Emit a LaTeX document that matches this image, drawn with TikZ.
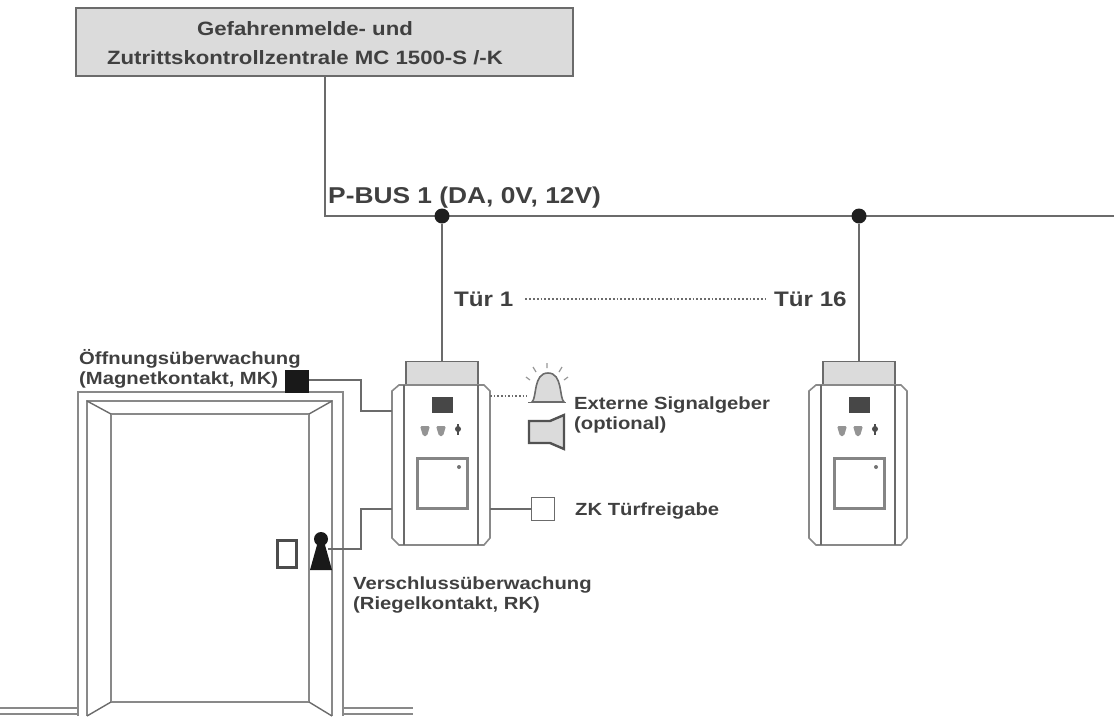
\documentclass[tikz,border=0pt]{standalone}
\usepackage{fontspec}
\setmainfont{Liberation Sans}
\newfontfamily\widebold[FakeStretch=1.15]{Liberation Sans Bold}
\definecolor{ln}{gray}{0.42}
\definecolor{fillg}{gray}{0.86}
\definecolor{txt}{gray}{0.25}
\tikzset{
  x=1pt,y=-1pt,
  wire/.style={draw=ln,line width=1.6pt},
  thin wire/.style={draw=ln,line width=1.4pt},
  frame/.style={draw=ln!80,line width=2pt},
  lbl/.style={inner sep=0pt,text=txt,font=\fontsize{17.6}{20}\widebold,align=left,anchor=west},
  lblbig/.style={inner sep=0pt,text=txt,font=\fontsize{22.9}{26}\widebold,anchor=west},
  dot/.style={circle,fill=black!88,inner sep=0pt,minimum size=15pt},
  plainnode/.style={inner sep=0pt,minimum size=0pt},
}
\newcommand{\mydevice}[2]{%
 \begin{scope}[shift={(#1,0)}]
  \node[plainnode,draw=ln,line width=1.5pt,fill=fillg,minimum width=72pt,minimum height=24pt] (#2top) at (442,373.5) {};
  \draw[frame,fill=white,line width=1.6pt] (399,385) -- (484,385) -- (490,391) -- (490,538) -- (484,545) -- (399,545) -- (392,538) -- (392,391) -- cycle;
  \node[plainnode,minimum width=98pt,minimum height=160pt] (#2) at (441,465) {};
  \draw[thin wire] (404,385) -- (404,545) (478,385) -- (478,545);
  \fill[black!72] (432,397) rectangle (453,413);
  \fill[black!42,rounded corners=1.5pt] (420,426) -- (430,426) -- (427,436) -- (423,436) -- cycle;
  \fill[black!42,rounded corners=1.5pt] (436,426) -- (446,426) -- (443,436) -- (439,436) -- cycle;
  \fill[black!70] (458,429) circle (3pt);
  \fill[black!70] (457,424) rectangle (459,435);
  \draw[draw=black!48,line width=3pt,fill=white] (417.5,458.5) rectangle (467,508);
  \fill[black!55] (459,467) circle (2pt);
 \end{scope}}
\begin{document}
\begin{tikzpicture}
\useasboundingbox (0,0) rectangle (1114,716);
% central unit
\node[plainnode,draw=ln,line width=1.8pt,fill=fillg,minimum width=497pt,minimum height=68pt,text=txt] (zentrale) at (324.5,42) {};
\node[inner sep=0pt,text=txt,font=\fontsize{19.3}{28.5}\widebold,align=center] (zentraletext) at (305,43) {Gefahrenmelde- und\\Zutrittskontrollzentrale MC 1500-S /-K};
% bus
\coordinate (busknee) at (325,216);
\coordinate (busend) at (1114,216);
\draw[wire] (zentrale.south -| busknee) -- (busknee) -- (busend);
\node[dot] (j1) at (442,216) {};
\node[dot] (j2) at (859,216) {};
\node[lblbig] (buslabel) at (328,197.5) {P-BUS 1 (DA, 0V, 12V)};
% door labels
\node[lblbig,font=\fontsize{21}{26}\widebold] (t1) at (454,299) {Tür 1};
\node[lblbig,font=\fontsize{21}{26}\widebold] (t16) at (774,299) {Tür 16};
\draw[draw=ln,line width=1.8pt,dotted] ([xshift=12pt]t1.east) -- ([xshift=-9pt]t16.west);
% devices
\mydevice{0}{da}
\mydevice{417}{db}
\draw[wire] (j1) -- (datop.north);
\draw[wire] (j2) -- (dbtop.north);
% door
\draw[frame] (0,708) -- (78,708) (0,714) -- (78,714);
\draw[frame] (343,708) -- (413,708) (343,714) -- (413,714);
\draw[frame] (78,716) -- (78,392) -- (343,392) -- (343,716);
\draw[frame] (87,716) -- (87,401) -- (332,401) -- (332,716);
\draw[frame] (111,702) -- (111,414) -- (309,414) -- (309,702) -- cycle;
\draw[thin wire] (87,401) -- (111,414) (332,401) -- (309,414) (87,716) -- (111,702) (332,716) -- (309,702);
% contact MK
\node[plainnode,fill=black!90,minimum width=24pt,minimum height=23pt] (mk) at (297,381) {};
\node[lbl] (mklabel) at (79,368.5) {Öffnungsüberwachung\\(Magnetkontakt, MK)};
\coordinate (k1) at (361,380);
\coordinate (k2) at (361,411);
\draw[thin wire] (mk.east |- k1) -- (k1) -- (k2) -- (k2 -| da.west);
% handle and keyhole
\node[plainnode,draw=black!70,line width=2.2pt,fill=white,minimum width=19pt,minimum height=27pt] (griff) at (287,554) {};
\fill[black!90] (310,570) -- (332,570) -- (325,545) -- (317,545) -- cycle;
\node[plainnode,circle,fill=black!90,minimum size=14pt] (rk) at (321,539) {};
\coordinate (k3) at (361,549);
\coordinate (k4) at (361,509);
\draw[thin wire] (328,549) -- (k3) -- (k4) -- (k4 -| da.west);
\node[lbl] (rklabel) at (353,594.5) {Verschlussüberwachung\\(Riegelkontakt, RK)};
% signal devices
\draw[draw=ln,line width=1.6pt,fill=fillg] (532,402) .. controls (537,398) and (533,373) .. (548,373) .. controls (563,373) and (559,398) .. (564,402) -- cycle;
\draw[draw=ln,line width=1.8pt] (528,402.5) -- (566,402.5);
\coordinate (siren) at (527,396);
\draw[draw=ln,line width=1.6pt,dotted] (da.east |- siren) -- (siren);
\draw[draw=ln!70,line width=1.2pt] (547,368) -- (547,363) (536,372) -- (533,367) (559,372) -- (562,367) (530,380) -- (526,377) (564,380) -- (568,377);
\draw[draw=black!68,line width=2.4pt,fill=fillg] (529,421) -- (550,421) -- (564,415) -- (564,449) -- (550,443) -- (529,443) -- cycle;
\node[lbl] (siglabel) at (574,414.5) {Externe Signalgeber\\(optional)};
% ZK
\node[plainnode,draw=ln,line width=1.5pt,fill=white,minimum size=23pt] (zk) at (543,509) {};
\draw[thin wire] (da.east |- zk) -- (zk.west);
\node[lbl] (zklabel) at (575,511) {ZK Türfreigabe};
\end{tikzpicture}
\end{document}
